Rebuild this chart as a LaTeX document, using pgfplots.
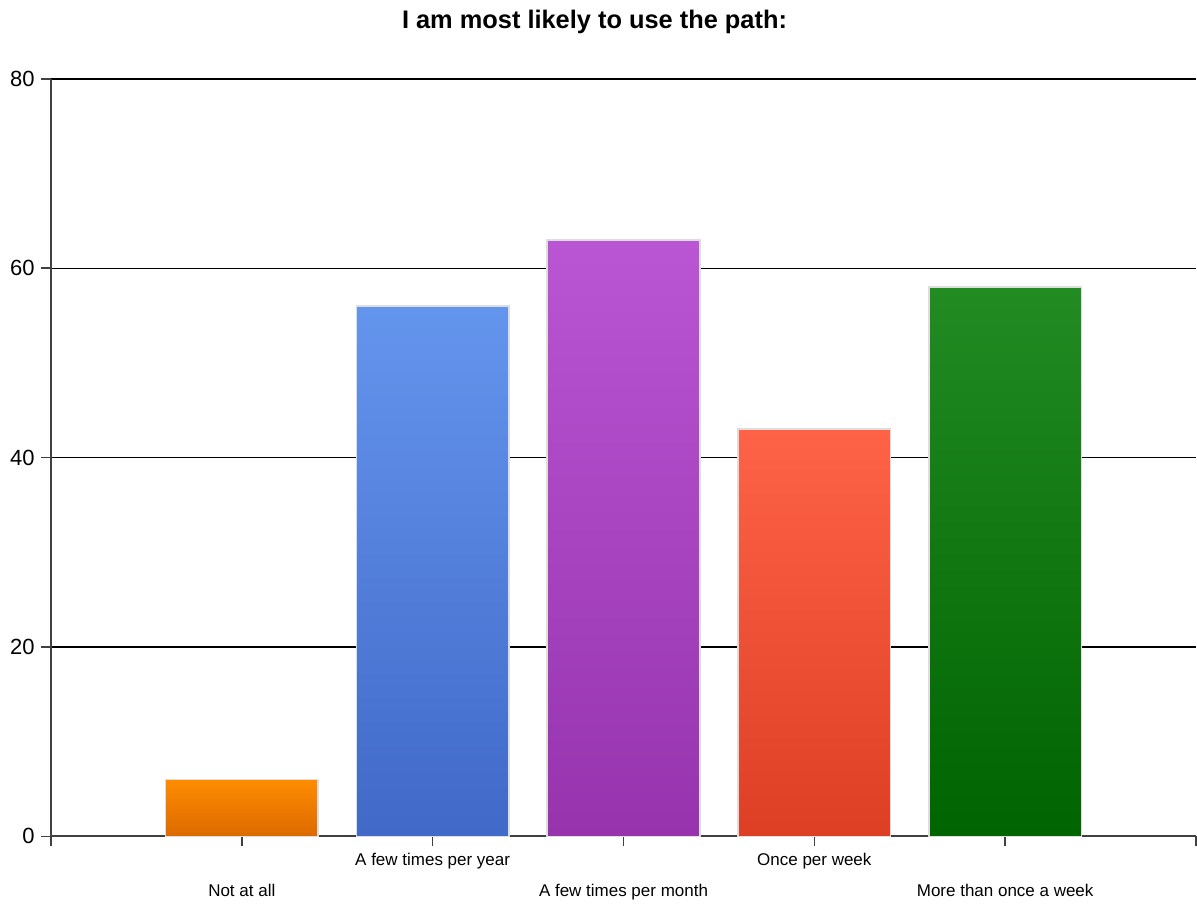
\documentclass[border=0pt]{standalone}
\usepackage{pgfplots}
\pgfplotsset{compat=1.18}
\usepackage{fontspec}
\setmainfont{Liberation Sans}
\definecolor{orT}{HTML}{FF8C00}\definecolor{orB}{HTML}{DC6A00}
\definecolor{blT}{HTML}{6495ED}\definecolor{blB}{HTML}{4169C8}
\definecolor{puT}{HTML}{BA55D3}\definecolor{puB}{HTML}{9633AD}
\definecolor{reT}{HTML}{FF6347}\definecolor{reB}{HTML}{DC3F23}
\definecolor{grT}{HTML}{228B22}\definecolor{grB}{HTML}{006400}
\definecolor{barline}{HTML}{DDDDDD}
\newcommand{\lo}[2]{\smash{\raisebox{-#1}{#2}}}
\begin{document}
\begin{tikzpicture}
\begin{axis}[name=ax,
  scale only axis, width=573pt, height=379pt,
  xmin=-1, xmax=5, ymin=0, ymax=80,
  axis lines*=left,
  axis line style={line width=1pt, color=black!75},
  xtick={-1,0,1,2,3,4,5},
  xticklabels={{},{\lo{24.5pt}{Not at all}},{\lo{9pt}{A few times per year}},{\lo{24.5pt}{A few times per month}},{\lo{9pt}{Once per week}},{\lo{24.5pt}{More than once a week}},{}},
  xticklabel style={anchor=north, inner sep=0pt, font=\fontsize{8.5}{10}\selectfont},
  ytick={0,20,40,60,80},
  yticklabel style={anchor=east, inner sep=0pt, xshift=-3pt, font=\fontsize{11}{13}\selectfont},
  /pgf/number format/assume math mode=true,
  tick align=outside, major tick length=5pt,
  tick style={line width=0.8pt, color=black!75},
  ymajorgrids, grid style={line width=0.75pt, color=black},
  bar width=0.8, clip=false,
]
\addplot[ybar, bar shift=0pt, draw=barline, line width=0.8pt, top color=orT, bottom color=orB] coordinates {(0,6)};
\addplot[ybar, bar shift=0pt, draw=barline, line width=0.8pt, top color=blT, bottom color=blB] coordinates {(1,56)};
\addplot[ybar, bar shift=0pt, draw=barline, line width=0.8pt, top color=puT, bottom color=puB] coordinates {(2,63)};
\addplot[ybar, bar shift=0pt, draw=barline, line width=0.8pt, top color=reT, bottom color=reB] coordinates {(3,43)};
\addplot[ybar, bar shift=0pt, draw=barline, line width=0.8pt, top color=grT, bottom color=grB] coordinates {(4,58)};
\end{axis}
\node[anchor=base, font=\fontsize{12.7}{15}\selectfont\bfseries, inner sep=0pt] at ([shift={(272pt,404pt)}]ax.south west) {I am most likely to use the path:};
\path ([shift={(-25.5pt,-33.5pt)}]ax.south west) rectangle ([shift={(573pt,418.5pt)}]ax.south west);
\end{tikzpicture}
\end{document}
